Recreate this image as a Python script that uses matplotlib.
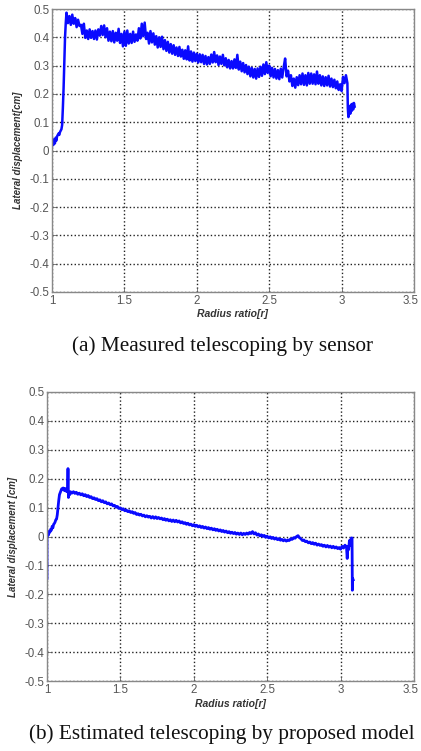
import matplotlib
matplotlib.use("Agg")
import matplotlib.pyplot as plt
import matplotlib.transforms as mtransforms

### DATA: (a) measured by sensor ###
r_meas = [1.000, 1.005, 1.010, 1.015, 1.020, 1.025, 1.030, 1.035, 1.040, 1.045,
          1.050, 1.055, 1.060, 1.065, 1.070, 1.075, 1.080, 1.085, 1.090, 1.095,
          1.10, 1.11, 1.12, 1.13, 1.14, 1.15, 1.16, 1.17, 1.18, 1.19,
          1.20, 1.21, 1.22, 1.23, 1.24, 1.25, 1.26, 1.27, 1.28, 1.29,
          1.30, 1.31, 1.32, 1.33, 1.34, 1.35, 1.36, 1.37, 1.38, 1.39,
          1.40, 1.41, 1.42, 1.43, 1.44, 1.45, 1.46, 1.47, 1.48, 1.49,
          1.50, 1.51, 1.52, 1.53, 1.54, 1.55, 1.56, 1.57, 1.58, 1.59,
          1.60, 1.61, 1.62, 1.63, 1.64, 1.65, 1.66, 1.67, 1.68, 1.69,
          1.70, 1.71, 1.72, 1.73, 1.74, 1.75, 1.76, 1.77, 1.78, 1.79,
          1.80, 1.81, 1.82, 1.83, 1.84, 1.85, 1.86, 1.87, 1.88, 1.89,
          1.90, 1.91, 1.92, 1.93, 1.94, 1.95, 1.96, 1.97, 1.98, 1.99,
          2.00, 2.01, 2.02, 2.03, 2.04, 2.05, 2.06, 2.07, 2.08, 2.09,
          2.10, 2.11, 2.12, 2.13, 2.14, 2.15, 2.16, 2.17, 2.18, 2.19,
          2.20, 2.21, 2.22, 2.23, 2.24, 2.25, 2.26, 2.27, 2.28, 2.29,
          2.30, 2.31, 2.32, 2.33, 2.34, 2.35, 2.36, 2.37, 2.38, 2.39,
          2.40, 2.41, 2.42, 2.43, 2.44, 2.45, 2.46, 2.47, 2.48, 2.49,
          2.50, 2.51, 2.52, 2.53, 2.54, 2.55, 2.56, 2.57, 2.58, 2.59,
          2.60, 2.61, 2.62, 2.63, 2.64, 2.65, 2.66, 2.67, 2.68, 2.69,
          2.70, 2.71, 2.72, 2.73, 2.74, 2.75, 2.76, 2.77, 2.78, 2.79,
          2.80, 2.81, 2.82, 2.83, 2.84, 2.85, 2.86, 2.87, 2.88, 2.89,
          2.90, 2.91, 2.92, 2.93, 2.94, 2.95, 2.96, 2.97, 2.98, 2.99,
          3.00, 3.01, 3.02, 3.03, 3.04,
          3.043, 3.047, 3.055, 3.060, 3.065, 3.070, 3.075, 3.080, 3.085, 3.090]
d_meas = [0.015, 0.030, 0.020, 0.040, 0.025, 0.045, 0.035, 0.050, 0.055, 0.060,
          0.055, 0.065, 0.070, 0.075, 0.090, 0.150, 0.220, 0.310, 0.400, 0.450,
          0.487, 0.450, 0.475, 0.444, 0.480, 0.448, 0.468, 0.436, 0.462, 0.440,
          0.444, 0.412, 0.448, 0.398, 0.424, 0.394, 0.428, 0.398, 0.422, 0.394,
          0.424, 0.392, 0.428, 0.406, 0.440, 0.408, 0.442, 0.400, 0.432, 0.388,
          0.420, 0.386, 0.422, 0.382, 0.416, 0.388, 0.430, 0.380, 0.412, 0.368,
          0.420, 0.370, 0.424, 0.378, 0.412, 0.380, 0.420, 0.384, 0.410, 0.388,
          0.432, 0.396, 0.448, 0.404, 0.452, 0.394, 0.416, 0.378, 0.422, 0.382,
          0.414, 0.374, 0.404, 0.364, 0.400, 0.366, 0.402, 0.358, 0.390, 0.352,
          0.384, 0.346, 0.376, 0.342, 0.372, 0.338, 0.364, 0.334, 0.366, 0.332,
          0.356, 0.324, 0.354, 0.322, 0.368, 0.318, 0.350, 0.314, 0.346, 0.316,
          0.342, 0.311, 0.340, 0.312, 0.338, 0.306, 0.334, 0.304, 0.330, 0.306,
          0.339, 0.311, 0.348, 0.312, 0.336, 0.302, 0.332, 0.306, 0.338, 0.301,
          0.326, 0.294, 0.320, 0.290, 0.316, 0.290, 0.322, 0.292, 0.338, 0.286,
          0.314, 0.280, 0.309, 0.276, 0.302, 0.270, 0.296, 0.262, 0.292, 0.258,
          0.288, 0.254, 0.290, 0.260, 0.296, 0.264, 0.304, 0.270, 0.312, 0.274,
          0.300, 0.262, 0.292, 0.258, 0.288, 0.254, 0.284, 0.252, 0.289, 0.258,
          0.294, 0.325, 0.262, 0.282, 0.244, 0.266, 0.228, 0.254, 0.222, 0.259,
          0.231, 0.266, 0.234, 0.272, 0.232, 0.266, 0.230, 0.274, 0.236, 0.272,
          0.236, 0.269, 0.234, 0.279, 0.236, 0.266, 0.230, 0.262, 0.228, 0.259,
          0.230, 0.264, 0.226, 0.254, 0.224, 0.250, 0.220, 0.244, 0.214, 0.234,
          0.210, 0.260, 0.238, 0.266, 0.238,
          0.150, 0.118, 0.155, 0.130, 0.162, 0.140, 0.165, 0.145, 0.168, 0.155]

### DATA: (b) estimated by proposed model ###
r_est = [1.000, 1.000, 1.005, 1.010, 1.015, 1.020, 1.025, 1.030, 1.035, 1.040,
         1.045, 1.050, 1.055, 1.060, 1.065, 1.070, 1.075, 1.080, 1.085, 1.090,
         1.095, 1.100, 1.105, 1.110, 1.115, 1.120, 1.125, 1.130, 1.135, 1.140,
         1.143, 1.146, 1.150, 1.155, 1.160,
         1.17, 1.18, 1.19, 1.20, 1.21, 1.22, 1.23, 1.24, 1.25, 1.26,
         1.27, 1.28, 1.29, 1.30, 1.31, 1.32, 1.33, 1.34, 1.35, 1.36,
         1.37, 1.38, 1.39, 1.40, 1.41, 1.42, 1.43, 1.44, 1.45, 1.46,
         1.47, 1.48, 1.49, 1.50, 1.51, 1.52, 1.53, 1.54, 1.55, 1.56,
         1.57, 1.58, 1.59, 1.60, 1.61, 1.62, 1.63, 1.64, 1.65, 1.66,
         1.67, 1.68, 1.69, 1.70, 1.71, 1.72, 1.73, 1.74, 1.75, 1.76,
         1.77, 1.78, 1.79, 1.80, 1.81, 1.82, 1.83, 1.84, 1.85, 1.86,
         1.87, 1.88, 1.89, 1.90, 1.91, 1.92, 1.93, 1.94, 1.95, 1.96,
         1.97, 1.98, 1.99, 2.00, 2.01, 2.02, 2.03, 2.04, 2.05, 2.06,
         2.07, 2.08, 2.09, 2.10, 2.11, 2.12, 2.13, 2.14, 2.15, 2.16,
         2.17, 2.18, 2.19, 2.20, 2.21, 2.22, 2.23, 2.24, 2.25, 2.26,
         2.27, 2.28, 2.29, 2.30, 2.31, 2.32, 2.33, 2.34, 2.35, 2.36,
         2.37, 2.38, 2.39, 2.40, 2.41, 2.42, 2.43, 2.44, 2.45, 2.46,
         2.47, 2.48, 2.49, 2.50, 2.51, 2.52, 2.53, 2.54, 2.55, 2.56,
         2.57, 2.58, 2.59, 2.60, 2.61, 2.62, 2.63, 2.64, 2.65, 2.66,
         2.67, 2.68, 2.69, 2.70, 2.71, 2.72, 2.73, 2.74, 2.75, 2.76,
         2.77, 2.78, 2.79, 2.80, 2.81, 2.82, 2.83, 2.84, 2.85, 2.86,
         2.87, 2.88, 2.89, 2.90, 2.91, 2.92, 2.93, 2.94, 2.95, 2.96,
         2.97, 2.98, 2.99, 3.00, 3.01, 3.02, 3.03, 3.04, 3.045, 3.05,
         3.055, 3.06, 3.065, 3.070, 3.074, 3.078, 3.080, 3.082, 3.086]
d_est = [-0.145, 0.000, 0.008, 0.005, 0.018, 0.015, 0.025, 0.022, 0.035, 0.030,
         0.042, 0.045, 0.050, 0.058, 0.060, 0.075, 0.100, 0.125, 0.145, 0.152,
         0.160, 0.165, 0.162, 0.168, 0.160, 0.166, 0.158, 0.165, 0.155, 0.160,
         0.235, 0.135, 0.150, 0.145, 0.155,
         0.150, 0.155, 0.149, 0.153, 0.146, 0.150, 0.144, 0.148, 0.141, 0.145,
         0.138, 0.142, 0.135, 0.138, 0.131, 0.134, 0.128, 0.131, 0.124, 0.127,
         0.120, 0.124, 0.117, 0.120, 0.113, 0.116, 0.110, 0.113, 0.106, 0.108,
         0.101, 0.104, 0.097, 0.099, 0.093, 0.096, 0.089, 0.092, 0.086, 0.089,
         0.083, 0.086, 0.080, 0.083, 0.076, 0.079, 0.074, 0.077, 0.071, 0.074,
         0.068, 0.072, 0.067, 0.070, 0.064, 0.069, 0.063, 0.068, 0.062, 0.066,
         0.061, 0.064, 0.058, 0.062, 0.056, 0.060, 0.054, 0.058, 0.052, 0.057,
         0.051, 0.056, 0.050, 0.054, 0.047, 0.051, 0.045, 0.048, 0.042, 0.046,
         0.040, 0.043, 0.037, 0.041, 0.035, 0.039, 0.033, 0.037, 0.031, 0.035,
         0.029, 0.033, 0.027, 0.031, 0.025, 0.029, 0.023, 0.027, 0.021, 0.025,
         0.019, 0.023, 0.017, 0.021, 0.015, 0.019, 0.013, 0.017, 0.011, 0.015,
         0.010, 0.014, 0.008, 0.012, 0.007, 0.012, 0.006, 0.011, 0.007, 0.012,
         0.008, 0.014, 0.010, 0.017, 0.009, 0.013, 0.005, 0.009, 0.002, 0.006,
         0.000, 0.004, -0.003, 0.001, -0.005, -0.001, -0.007, -0.003, -0.009, -0.005,
         -0.011, -0.007, -0.013, -0.010, -0.015, -0.011, -0.016, -0.012, -0.014, -0.008,
         -0.010, -0.004, -0.006, 0.000, 0.003, -0.004, -0.008, -0.014, -0.012, -0.018,
         -0.016, -0.022, -0.019, -0.025, -0.021, -0.027, -0.023, -0.030, -0.026, -0.031,
         -0.028, -0.034, -0.030, -0.036, -0.031, -0.037, -0.033, -0.039, -0.034, -0.040,
         -0.036, -0.042, -0.038, -0.044, -0.034, -0.040, -0.030, -0.036, -0.076, -0.035,
         -0.045, -0.014, -0.030, -0.010, -0.005, -0.005, -0.186, -0.145, -0.150]

x_ticks = [1, 1.5, 2, 2.5, 3, 3.5]
x_ticklabels = ['1', '1.5', '2', '2.5', '3', '3.5']
y_ticks = [0.5, 0.4, 0.3, 0.2, 0.1, 0, -0.1, -0.2, -0.3, -0.4, -0.5]
y_ticklabels = ['0.5', '0.4', '0.3', '0.2', '0.1', '0', '-0.1', '-0.2', '-0.3', '-0.4', '-0.5']

### FIGURE ###
W, H = 421, 751
fig = plt.figure(figsize=(W / 100, H / 100), dpi=100)

def px_rect(left, top, right, bottom):
    return [left / W, 1 - bottom / H, (right - left) / W, (bottom - top) / H]

panels = [
    dict(rect=px_rect(52, 9, 414, 292), r=r_meas, d=d_meas, lw=1.8,
         ylabel='Lateral displacement[cm]', ylab_x=18, xlab_y=314,
         caption='(a) Measured telescoping by sensor', cap_y=346),
    dict(rect=px_rect(47, 392, 414, 681), r=r_est, d=d_est, lw=2.0,
         ylabel='Lateral displacement [cm]', ylab_x=13, xlab_y=704,
         caption='(b) Estimated telescoping by proposed model', cap_y=734),
]

for p in panels:
    ax = fig.add_axes(p['rect'])
    ax.plot(p['r'], p['d'], color='#0a0aff', lw=p['lw'])
    ax.set_xlim(1, 3.5)
    ax.set_ylim(-0.5, 0.5)
    ax.set_xticks(x_ticks)
    ax.set_xticklabels(x_ticklabels)
    ax.set_yticks(y_ticks)
    ax.set_yticklabels(y_ticklabels)
    ax.grid(True, linestyle=':', color='#222222', lw=1.0)
    ax.tick_params(direction='in', length=3, width=0.6, pad=2,
                   labelsize=8.3, labelcolor='#555555', colors='#666666')
    for lbl in ax.get_xticklabels() + ax.get_yticklabels():
        lbl.set_family('Liberation Sans')
    # keep the last x label inside the picture
    last = ax.get_xticklabels()[-1]
    last.set_transform(last.get_transform() +
                       mtransforms.ScaledTranslation(-3 / 100, 0, fig.dpi_scale_trans))
    for s in ax.spines.values():
        s.set_color('#888888')
        s.set_linewidth(1.0)

    l, b, w, h = p['rect']
    fig.text(p['ylab_x'] / W, b + h / 2, p['ylabel'], rotation=90,
             ha='center', va='center', fontsize=7, fontweight='bold',
             fontstyle='italic', family='Liberation Sans', color='#333333')
    fig.text(l + w / 2, 1 - p['xlab_y'] / H, 'Radius ratio[r]',
             ha='center', va='center', fontsize=7.5, fontweight='bold',
             fontstyle='italic', family='Liberation Sans', color='#333333')
    fig.text(222 / W, 1 - p['cap_y'] / H, p['caption'],
             ha='center', va='center', fontsize=15.3,
             family='Liberation Serif', color='#111111')

fig.savefig('out.png', dpi=100)
